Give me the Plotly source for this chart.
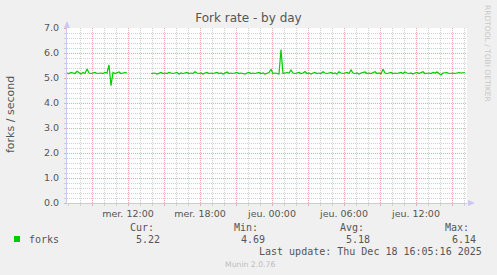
import pandas as pd
import plotly.graph_objects as go

# ---- data (10-minute samples, Wed 17 Dec 2025 06:55 -> Thu 18 Dec 16:05) ----
start_time = "2025-12-17 06:55"
sample_minutes = 10
seg1 = [5.2, 5.18, 5.22, 5.2, 5.18, 5.27, 5.2, 5.16, 5.22, 5.18,
        5.36, 5.2, 5.18, 5.2, 5.22, 5.18, 5.2, 5.2, 5.18, 5.22,
        5.2, 5.52, 4.69, 5.22, 5.18, 5.2, 5.24, 5.18, 5.2, 5.22, 5.2]
gap = [None] * 11
seg2 = [5.18, 5.2, 5.2, 5.16, 5.2, 5.22, 5.18, 5.2, 5.18, 5.22,
        5.2, 5.18, 5.2, 5.22, 5.16, 5.2, 5.18, 5.2, 5.22, 5.18,
        5.2, 5.18, 5.25, 5.2, 5.18, 5.2, 5.16, 5.2, 5.22, 5.18,
        5.2, 5.18, 5.2, 5.22, 5.18, 5.2, 5.16, 5.2, 5.24, 5.18,
        5.2, 5.18, 5.2, 5.22, 5.18, 5.2, 5.18, 5.16, 5.2, 5.22,
        5.18, 5.2, 5.18, 5.2, 5.22, 5.18, 5.2, 5.16, 5.2, 5.22,
        5.35, 5.18, 5.2, 5.18, 5.16, 6.14, 5.18, 5.2, 5.22, 5.2,
        5.32, 5.2, 5.18, 5.2, 5.22, 5.18, 5.2, 5.26, 5.18, 5.2,
        5.16, 5.2, 5.22, 5.18, 5.2, 5.18, 5.25, 5.2, 5.18, 5.2,
        5.22, 5.18, 5.2, 5.16, 5.25, 5.2, 5.18, 5.2, 5.22, 5.18,
        5.32, 5.2, 5.18, 5.2, 5.16, 5.2, 5.22, 5.24, 5.18, 5.2,
        5.18, 5.2, 5.25, 5.18, 5.2, 5.16, 5.35, 5.2, 5.18, 5.2,
        5.22, 5.18, 5.2, 5.18, 5.2, 5.22, 5.18, 5.24, 5.2, 5.18,
        5.2, 5.16, 5.2, 5.22, 5.18, 5.2, 5.25, 5.18, 5.2, 5.2,
        5.18, 5.22, 5.2, 5.24, 5.18, 5.12, 5.2, 5.2, 5.22, 5.18,
        5.2, 5.2, 5.18, 5.2, 5.22, 5.2, 5.2, 5.22]
forks = seg1 + gap + seg2
times = pd.date_range(start_time, periods=len(forks), freq=f"{sample_minutes}min")

x_range = ["2025-12-17 06:55", "2025-12-18 16:15"]
tick_vals = ["2025-12-17 09:00", "2025-12-17 12:00", "2025-12-17 15:00",
             "2025-12-17 18:00", "2025-12-17 21:00", "2025-12-18 00:00",
             "2025-12-18 03:00", "2025-12-18 06:00", "2025-12-18 09:00",
             "2025-12-18 12:00", "2025-12-18 15:00"]
tick_text = ["", "mer. 12:00", "", "mer. 18:00", "", "jeu. 00:00",
             "", "jeu. 06:00", "", "jeu. 12:00", ""]

series_name = "forks"
stat_labels = ["Cur:", "Min:", "Avg:", "Max:"]
stat_values = ["5.22", "4.69", "5.18", "6.14"]
title_text = "Fork rate - by day"
y_title = "forks / second"
last_update = "Last update: Thu Dec 18 16:05:16 2025"
footer = "Munin 2.0.76"
side_text = "RRDTOOL / TOBI OETIKER"

# ---- geometry helpers (pixel -> paper) ----
W, H = 497, 275
L, R, T, B = 67, 467, 28, 203
def px(x):
    return (x - L) / (R - L)
def py(y):
    return (B - y) / (B - T)

GREEN = "#00CC00"
TXT = "#555555"
MONO = "DejaVu Sans Mono"
SANS = "DejaVu Sans"
MAJOR = "#EDA8A8"
MINOR = "#D0D0D0"
AXIS = "#C8C8F4"

fig = go.Figure()
fig.add_trace(go.Scatter(x=times, y=forks, mode="lines",
                         line=dict(color=GREEN, width=1.2),
                         connectgaps=False, hoverinfo="skip", showlegend=False))

fig.update_layout(
    width=W, height=H,
    margin=dict(l=L, r=W - R, t=T, b=H - B, pad=0),
    paper_bgcolor="#F0F0F0", plot_bgcolor="#FFFFFF",
    showlegend=False,
    title=dict(text=title_text, x=0.5, xref="container", xanchor="center",
               y=1 - 18 / H, yref="container", yanchor="middle",
               font=dict(family=SANS, size=12, color=TXT)),
    xaxis=dict(type="date", range=x_range, tickmode="array",
               tickvals=tick_vals, ticktext=tick_text,
               showgrid=True, gridcolor=MAJOR, griddash="1px,1px", gridwidth=1,
               ticks="outside", ticklen=2, tickcolor=MAJOR,
               minor=dict(dtick=3600000, tick0="2025-12-17 07:00",
                          showgrid=True, gridcolor=MINOR, griddash="1px,1px",
                          ticks="outside", ticklen=2, tickcolor=MINOR),
               showline=True, linecolor=AXIS, linewidth=1, zeroline=False,
               tickfont=dict(family=SANS, size=9.5, color=TXT),
               fixedrange=True),
    yaxis=dict(range=[0, 7], dtick=1, tick0=0, tickformat=".1f",
               showgrid=True, gridcolor=MAJOR, griddash="1px,1px", gridwidth=1,
               ticks="outside", ticklen=2, tickcolor=MAJOR,
               minor=dict(dtick=0.2, showgrid=True, gridcolor=MINOR,
                          griddash="1px,1px", ticks="outside", ticklen=2,
                          tickcolor=MINOR),
               showline=True, linecolor=AXIS, linewidth=1, zeroline=False,
               tickfont=dict(family=SANS, size=9.5, color=TXT),
               ticklabelstandoff=3, fixedrange=True),
)

shapes = [
    # axis arrows
    dict(type="path", xref="paper", yref="paper", line=dict(width=0),
         fillcolor=AXIS,
         path=f"M {px(67)} {py(21)} L {px(64)} {py(28)} L {px(70)} {py(28)} Z"),
    dict(type="path", xref="paper", yref="paper", line=dict(width=0),
         fillcolor=AXIS,
         path=f"M {px(475)} {py(203)} L {px(468)} {py(200)} L {px(468)} {py(206)} Z"),
    # legend swatch
    dict(type="rect", xref="paper", yref="paper", line=dict(width=0),
         fillcolor=GREEN, x0=px(14), x1=px(20), y0=py(242), y1=py(236)),
]
fig.update_layout(shapes=shapes)

ann = []
def text(s, x, y, anchor="left", family=MONO, size=10, color=TXT, angle=0):
    ann.append(dict(text=s, x=px(x), y=py(y), xref="paper", yref="paper",
                    xanchor=anchor, yanchor="middle", showarrow=False,
                    textangle=angle, font=dict(family=family, size=size, color=color)))

text(y_title, 10, 115, anchor="center", family=SANS, size=11, angle=-90)
text(series_name, 27, 239.5)
label_right = [155.5, 260, 365.5, 470.5]
value_right = [161.5, 266.5, 371.5, 477.5]
for lab, val, xl, xv in zip(stat_labels, stat_values, label_right, value_right):
    text(lab, xl, 227.5, anchor="right")
    text(val, xv, 239.5, anchor="right")
text(last_update, 483.5, 251.5, anchor="right")
text(footer, 223, 264, family=SANS, size=7.7, color="#BDBDBD")
text(side_text, 488, 53, anchor="center", family=SANS, size=7.5,
     color="#C8C8C8", angle=90)
fig.update_layout(annotations=ann)

fig.write_html("out.html")
